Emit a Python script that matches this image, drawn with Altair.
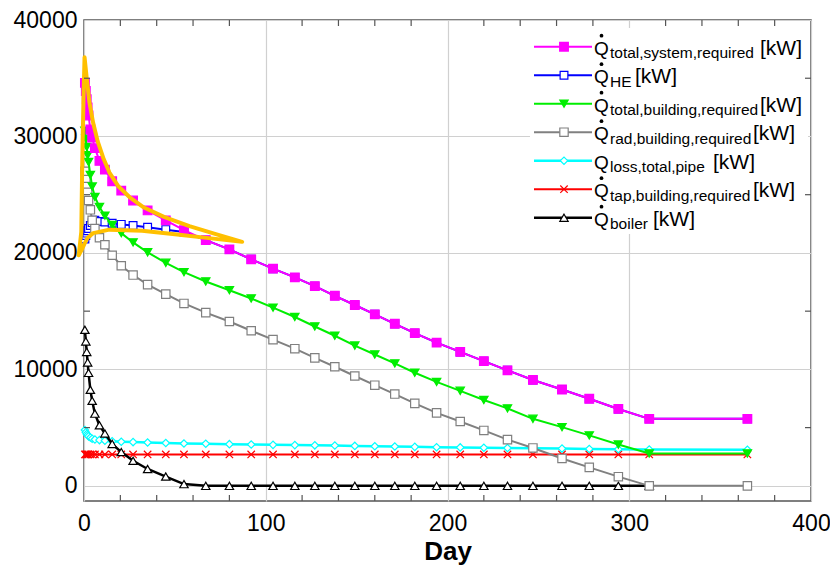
import altair as alt
import pandas as pd

# ---------------- data ----------------
days = [0.5, 1, 1.5, 2, 2.5, 3.5, 4.5, 6, 8.5, 11.5, 15.5, 20.5, 27, 35, 45, 55, 67,
        80, 92, 104, 116, 127, 138, 149, 160, 171, 182, 194, 207, 220, 233, 247,
        263, 278, 294, 311, 365]

q_total_system = [34600, 33900, 33200, 32500, 31800, 30600, 29900, 29000, 27900, 27150,
                  26150, 25350, 24500, 23650, 22800, 21950, 21100, 20300, 19450, 18650,
                  17900, 17150, 16320, 15530, 14730, 13915, 13115, 12300, 11500, 10710,
                  9920, 9095, 8270, 7480, 6605, 5755, 5755]

q_he = [21200, 21500, 21700, 21900, 22100, 22350, 22600, 22800, 22700, 22650,
        22550, 22450, 22350, 22200, 22000, 21800, 21100, 20300, 19450, 18650,
        17900, 17150, 16320, 15530, 14730, 13915, 13115, 12300, 11500, 10710,
        9920, 9095, 8270, 7480, 6605, 5755, 5755]

q_total_building = [30500, 29800, 29100, 28400, 27800, 26700, 25700, 24800, 23950, 23200,
                    22400, 21700, 20900, 20050, 19150, 18350, 17550, 16800, 16090, 15300,
                    14500, 13685, 12890, 12045, 11280, 10515, 9715, 8925, 8160, 7370,
                    6655, 5755, 5040, 4335, 3545, 2780, 2780]

q_rad_building = [27000, 26300, 25700, 25200, 24500, 23700, 22800, 22100, 21300, 20700,
                  19800, 18900, 18100, 17280, 16465, 15665, 14875, 14110, 13320, 12555,
                  11780, 10990, 10225, 9435, 8645, 7880, 7080, 6265, 5525, 4760,
                  3970, 3255, 2355, 1590, 790, 0, 0]

q_loss_pipe = [4800, 4600, 4450, 4350, 4250, 4150, 4050, 3980, 3930, 3880,
               3830, 3790, 3760, 3720, 3680, 3640, 3620, 3580, 3550, 3520,
               3500, 3480, 3460, 3430, 3400, 3380, 3350, 3320, 3300, 3270,
               3250, 3220, 3200, 3170, 3150, 3120, 3100]

q_tap_building = [2700, 2700, 2700, 2700, 2700, 2700, 2700, 2700, 2700, 2700,
                  2700, 2700, 2700, 2700, 2700, 2700, 2700, 2700, 2700, 2700,
                  2700, 2700, 2700, 2700, 2700, 2700, 2700, 2700, 2700, 2700,
                  2700, 2700, 2700, 2700, 2700, 2700, 2700]

q_boiler = [13400, 12400, 11500, 10600, 9700, 8250, 7300, 6200, 5200, 4500,
            3600, 2900, 2150, 1450, 800, 150, 0, 0, 0, 0,
            0, 0, 0, 0, 0, 0, 0, 0, 0, 0,
            0, 0, 0, 0, 0, 0, None]

# orange hand-drawn highlight outline (closed path)
outline_day = [-2.9, -1.5, -1.0, -0.3, 0.3, 1.5, 3, 5, 7.5, 10.5, 14, 19, 25, 33, 44, 58, 73, 87,
               70, 50, 32, 14, 5, 2, 0.3, -1.5, -2.9]
outline_val = [19800, 21800, 27400, 33100, 36800, 35000, 32900, 31200, 29600, 28200, 26900,
               25700, 24800, 23900, 23100, 22300, 21600, 20950,
               21250, 21600, 21900, 22000, 21700, 21300, 20800, 20200, 19800]

x_major = [0, 100, 200, 300, 400]
y_major = [0, 10000, 20000, 30000, 40000]
x_minor = [20, 40, 60, 80, 120, 140, 160, 180, 220, 240, 260, 280, 320, 340, 360, 380]
y_minor = [5000, 15000, 25000, 35000]

legend_subs = ["total,system,required", "HE", "total,building,required",
               "rad,building,required", "loss,total,pipe", "tap,building,required", "boiler"]

# ---------------- styles ----------------
XPATH = "M-1,-1L1,1M-1,1L1,-1"
series = [
    # key, values, color, shape, fill, size, line width, legend index, dot
    ("he", q_he, "#0000FF", "square", "white", 60, 2, 1, True),
    ("tap", q_tap_building, "#FF0000", XPATH, "none", 55, 2, 5, True),
    ("loss", q_loss_pipe, "#00FFFF", "diamond", "white", 55, 2.5, 4, False),
    ("boiler", q_boiler, "#000000", "triangle-up", "white", 70, 2.5, 6, True),
    ("rad", q_rad_building, "#808080", "square", "white", 70, 2, 3, True),
    ("bld", q_total_building, "#00EE00", "triangle-down", "#00EE00", 70, 2, 2, True),
    ("sys", q_total_system, "#FF00FF", "square", "#FF00FF", 75, 2, 0, True),
]
legend_kw_x = [676, 551, 676, 669, 629, 669, 569]

W, H = 727, 481
FONT = "Liberation Sans"

x_enc = alt.X("day:Q", scale=alt.Scale(domain=[0, 400], nice=False, zero=False),
              axis=alt.Axis(values=x_major, title="Day", grid=True, ticks=False, domain=False,
                            labelFontSize=23, labelPadding=11, titleFontSize=26,
                            titleFontWeight="bold", titlePadding=3, labelFont=FONT,
                            titleFont=FONT, labelColor="black", titleColor="black",
                            labelFlush=False, format="d"))
y_enc = alt.Y("value:Q", scale=alt.Scale(domain=[-1300, 40000], nice=False, zero=False),
              axis=alt.Axis(values=y_major, title=None, grid=True, ticks=False, domain=False,
                            labelFontSize=23, labelPadding=7, labelFont=FONT,
                            labelColor="black", labelFlush=False, format="d"))

layers = []
for key, vals, color, shape, fill, size, lw, li, dot in series:
    df = pd.DataFrame({"day": days, "value": vals}).dropna()
    base = alt.Chart(df)
    layers.append(base.mark_line(color=color, strokeWidth=lw).encode(x=x_enc, y=y_enc))
    layers.append(base.mark_point(shape=shape, size=size, fill=fill, stroke=color,
                                  strokeWidth=1.2, opacity=1, filled=False)
                  .encode(x=x_enc, y=y_enc))

outline_df = pd.DataFrame({"day": outline_day, "value": outline_val,
                           "i": list(range(len(outline_day)))})
layers.append(alt.Chart(outline_df).mark_line(color="#FFC000", strokeWidth=4,
                                              strokeJoin="round", strokeCap="round")
              .encode(x=x_enc, y=y_enc, order="i:Q"))

# legend background + entries
dummy = pd.DataFrame({"k": [0]})
layers.append(alt.Chart(dummy).mark_rect(fill="white").encode(
    x=alt.value(446), x2=alt.value(724), y=alt.value(8), y2=alt.value(214)))
for key, vals, color, shape, fill, size, lw, li, dot in series:
    yy = 26.7 + 28.5 * li
    c = alt.Chart(dummy)
    layers.append(c.mark_rule(color=color, strokeWidth=lw).encode(
        x=alt.value(450), x2=alt.value(508), y=alt.value(yy)))
    layers.append(c.mark_point(shape=shape, size=size, fill=fill, stroke=color,
                               strokeWidth=1.2, opacity=1, filled=False).encode(
        x=alt.value(480), y=alt.value(yy)))
    layers.append(c.mark_text(text="Q", font=FONT, fontSize=19, align="left",
                              baseline="alphabetic", color="black").encode(
        x=alt.value(510), y=alt.value(yy + 8)))
    if dot:
        layers.append(c.mark_point(shape="circle", size=14, filled=True, color="black",
                                   opacity=1).encode(x=alt.value(517.5), y=alt.value(yy - 11)))
    layers.append(c.mark_text(text=legend_subs[li], font=FONT, fontSize=15.5, align="left",
                              baseline="alphabetic", color="black").encode(
        x=alt.value(526), y=alt.value(yy + 11.5)))
    layers.append(c.mark_text(text="[kW]", font=FONT, fontSize=21, align="left",
                              baseline="alphabetic", color="black").encode(
        x=alt.value(legend_kw_x[li]), y=alt.value(yy + 8)))

# inward minor ticks on all four sides
xt = alt.Chart(pd.DataFrame({"day": x_minor}))
yt = alt.Chart(pd.DataFrame({"value": y_minor}))
TC = "#555555"
layers.append(xt.mark_rule(color=TC, strokeWidth=1.2).encode(x=x_enc, y=alt.value(H), y2=alt.value(H - 6)))
layers.append(xt.mark_rule(color=TC, strokeWidth=1.2).encode(x=x_enc, y=alt.value(0), y2=alt.value(6)))
layers.append(yt.mark_rule(color=TC, strokeWidth=1.2).encode(y=y_enc, x=alt.value(0), x2=alt.value(6)))
layers.append(yt.mark_rule(color=TC, strokeWidth=1.2).encode(y=y_enc, x=alt.value(W), x2=alt.value(W - 6)))

chart = alt.LayerChart(layer=layers).properties(
    width=W, height=H,
    padding={"left": 76, "top": 12, "right": 19, "bottom": 64},
    autosize=alt.AutoSizeParams(type="none"),
).configure_view(stroke="#555555", strokeWidth=1.5).configure_axis(
    gridColor="#d0d0d0", gridWidth=1.2, gridOpacity=1)

chart.save("out.html", embed_options={"renderer": "svg", "actions": False})
